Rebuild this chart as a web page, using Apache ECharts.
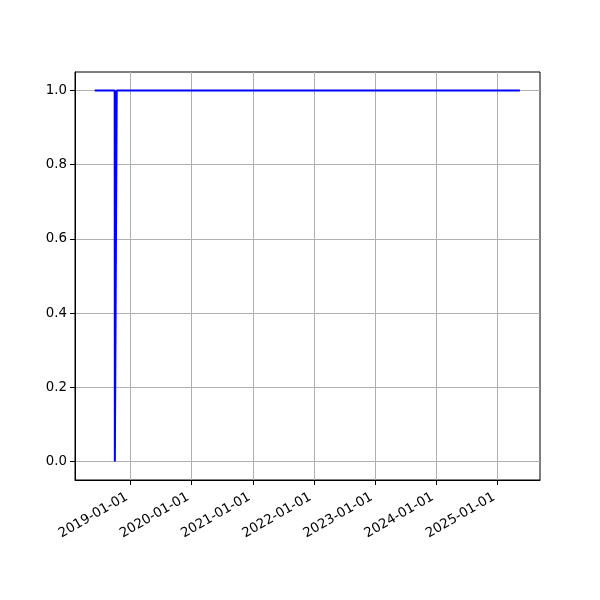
<!DOCTYPE html>
<html>
<head>
<meta charset="utf-8">
<script src="https://cdn.jsdelivr.net/npm/echarts@6/dist/echarts.min.js"></script>
<style>html,body{margin:0;padding:0;background:#fff}#c{width:600px;height:600px}</style>
</head>
<body>
<div id="c"></div>
<script>
// Data
var dates = ['2018-06-02', '2018-09-29', '2018-09-30', '2018-10-10', '2018-10-11', '2025-05-15'];
var values = [1, 1, 0, 0, 1, 1];
var xTickLabels = ['2019-01-01', '2020-01-01', '2021-01-01', '2022-01-01', '2023-01-01', '2024-01-01', '2025-01-01'];
var yTickValues = [0, 0.2, 0.4, 0.6, 0.8, 1.0];

function ms(s) { return Date.parse(s + 'T00:00:00Z'); }
var seriesData = dates.map(function (d, i) { return [ms(d), values[i]]; });
var xTicks = xTickLabels.map(ms);

var chart = echarts.init(document.getElementById('c'), null, { renderer: 'canvas' });
chart.setOption({
  animation: false,
  backgroundColor: '#fff',
  grid: { left: 75, right: 60, top: 72, bottom: 120, show: true, borderColor: '#000', borderWidth: 1, containLabel: false },
  xAxis: {
    type: 'value',
    min: ms('2018-02-04'),
    max: ms('2025-09-12'),
    axisLine: { show: true, onZero: false, lineStyle: { color: '#000', width: 1 } },
    axisTick: { show: true, inside: false, length: 5, lineStyle: { color: '#000' }, customValues: xTicks },
    splitLine: { show: true, lineStyle: { color: '#b0b0b0', width: 1 } },
    axisLabel: {
      customValues: xTicks,
      rotate: 30,
      margin: 14,
      padding: [0, 4, 0, 0],
      color: '#000',
      fontSize: 13.33,
      fontFamily: 'DejaVu Sans',
      formatter: function (v) {
        var d = new Date(v);
        var m = d.getUTCMonth() + 1, dd = d.getUTCDate();
        return d.getUTCFullYear() + '-' + (m < 10 ? '0' : '') + m + '-' + (dd < 10 ? '0' : '') + dd;
      }
    }
  },
  yAxis: {
    type: 'value',
    min: -0.05,
    max: 1.05,
    axisLine: { show: true, onZero: false, lineStyle: { color: '#000', width: 1 } },
    axisTick: { show: true, inside: false, length: 5, lineStyle: { color: '#000' }, customValues: yTickValues },
    splitLine: { show: true, lineStyle: { color: '#b0b0b0', width: 1 } },
    axisLabel: {
      customValues: yTickValues,
      margin: 8,
      color: '#000',
      fontSize: 13.33,
      fontFamily: 'DejaVu Sans',
      formatter: function (v) { return v.toFixed(1); }
    }
  },
  series: [{
    type: 'line',
    data: seriesData,
    showSymbol: false,
    symbol: 'none',
    lineStyle: { color: '#0000ff', width: 2 },
    itemStyle: { color: '#0000ff' }
  }]
});
</script>
</body>
</html>
